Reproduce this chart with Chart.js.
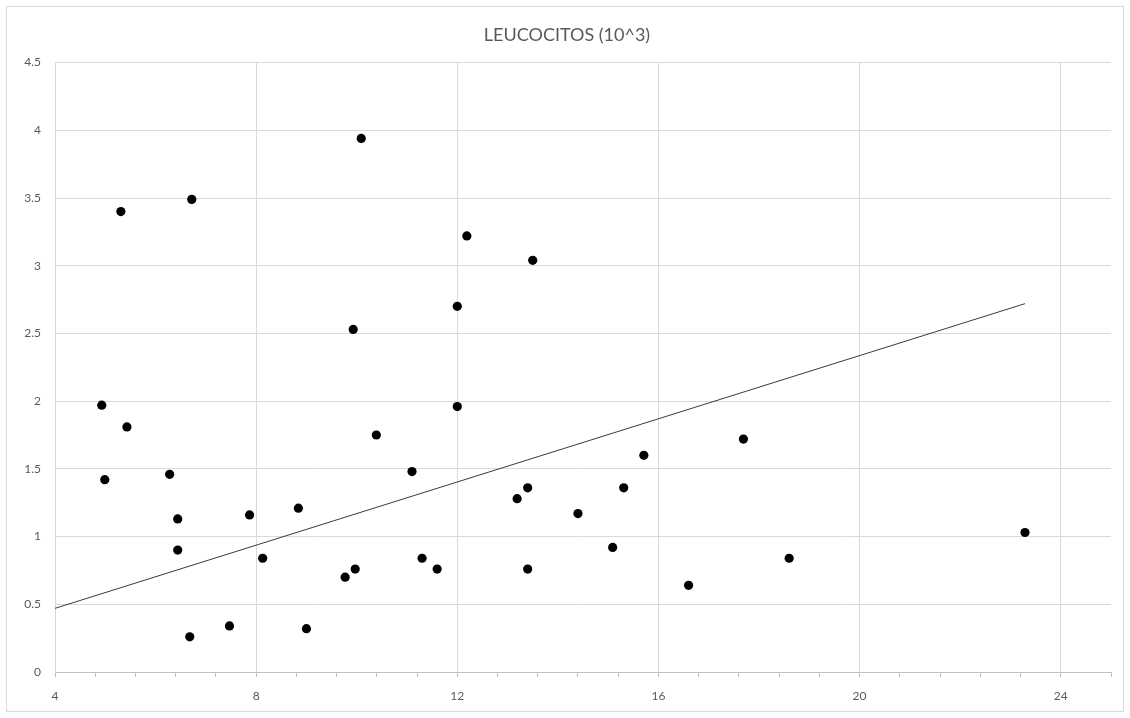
<!DOCTYPE html>
<html>
<head>
<meta charset="utf-8">
<script src="https://cdn.jsdelivr.net/npm/chart.js@4"></script>
<style>
  body { margin: 0; background: #fff; }
  #wrap {
    position: absolute; left: 6px; top: 6px;
    width: 1116px; height: 704px;
    border: 1px solid #d9d9d9;
  }
</style>
</head>
<body>
<div id="wrap"><canvas id="scatterChart"></canvas></div>
<script>
const chartTitle = "LEUCOCITOS (10^3)";

// x / y pairs
const xValues = [4.93, 4.99, 5.31, 5.43, 6.28, 6.44, 6.44, 6.72, 6.68, 7.47,
  7.87, 8.13, 8.84, 9.0, 9.77, 9.93, 9.97, 10.09, 10.39, 11.1,
  11.3, 11.6, 12.0, 12.0, 12.19, 13.19, 13.4, 13.4, 13.5, 14.4,
  15.09, 15.31, 15.71, 16.6, 17.69, 18.6, 23.29];
const yValues = [1.97, 1.42, 3.4, 1.81, 1.46, 1.13, 0.9, 3.49, 0.26, 0.34,
  1.16, 0.84, 1.21, 0.32, 0.7, 2.53, 0.76, 3.94, 1.75, 1.48,
  0.84, 0.76, 2.7, 1.96, 3.22, 1.28, 1.36, 0.76, 3.04, 1.17,
  0.92, 1.36, 1.6, 0.64, 1.72, 0.84, 1.03];

// trend line ends
const trendX = [4, 23.29];
const trendY = [0.47, 2.72];

const labelFont = { family: "Lato", size: 12 };

var ctx = document.getElementById("scatterChart").getContext("2d");
var scatterChart = new Chart(ctx, {
  type: "scatter",
  data: {
    datasets: [
      {
        label: "Leucocitos",
        data: xValues.map((x, i) => ({ x: x, y: yValues[i] })),
        backgroundColor: "#000",
        borderWidth: 0,
        pointRadius: 4.6,
        pointHoverRadius: 4.6,
        order: 1,
      },
      {
        label: "Tendencia",
        type: "line",
        data: trendX.map((x, i) => ({ x: x, y: trendY[i] })),
        borderColor: "#3a3a3a",
        borderWidth: 1,
        pointRadius: 0,
        fill: false,
        order: 2,
      },
    ],
  },
  options: {
    responsive: true,
    maintainAspectRatio: false,
    animation: false,
    layout: { padding: { top: 0, right: 10, bottom: 0, left: 14 } },
    plugins: {
      legend: { display: false },
      tooltip: { enabled: false },
      title: {
        display: true,
        text: chartTitle,
        color: "#595959",
        font: { family: "Lato", size: 18, weight: "normal" },
        padding: { top: 17, bottom: 17 },
      },
    },
    scales: {
      x: {
        type: "linear",
        min: 4,
        max: 25,
        ticks: {
          stepSize: 0.8,
          autoSkip: false,
          maxRotation: 0,
          padding: 12,
          color: "#595959",
          font: labelFont,
          callback: (v) => (v % 4 === 0 && v <= 24 ? String(v) : ""),
        },
        grid: {
          color: (c) => {
            const v = c.tick ? c.tick.value : 0;
            return v % 4 === 0 && v > 4 && v <= 24 ? "#d9d9d9" : "rgba(0,0,0,0)";
          },
          tickColor: "#bfbfbf",
          tickLength: 5,
        },
        border: { color: "#bfbfbf" },
        afterFit: (s) => { s.height = 39; },
      },
      y: {
        min: 0,
        max: 4.5,
        ticks: {
          stepSize: 0.5,
          padding: 14,
          color: "#595959",
          font: labelFont,
          callback: (v) => String(v),
        },
        grid: { color: "#d9d9d9", drawTicks: false },
        border: { color: "#d9d9d9" },
        afterFit: (s) => { s.width = 34; },
      },
    },
  },
});
</script>
</body>
</html>
